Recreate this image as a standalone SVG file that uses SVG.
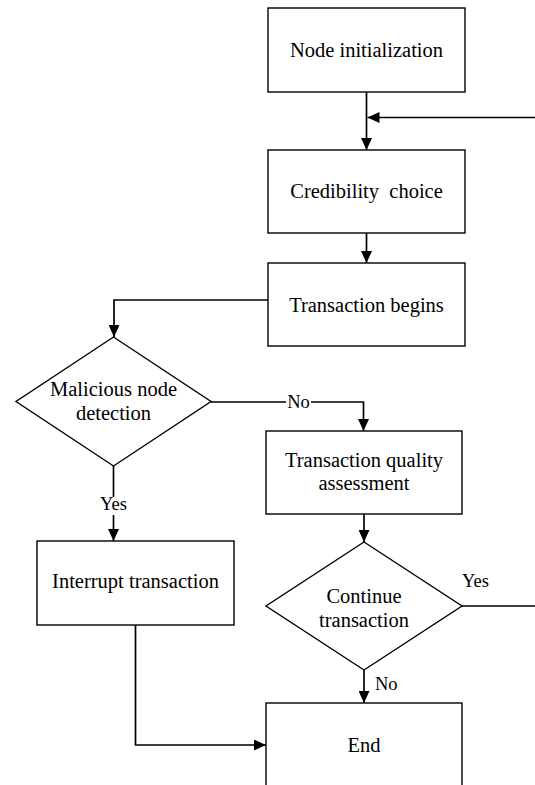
<svg xmlns="http://www.w3.org/2000/svg" width="535" height="785" viewBox="0 0 535 785">
  <style>
    .shape { fill: #ffffff; stroke: #000000; stroke-width: 1.4; }
    .line { fill: none; stroke: #000000; stroke-width: 1.7; }
    .txt { font-family: "Liberation Serif", "Times New Roman", serif; font-size: 20.5px; fill: #000000; text-anchor: middle; }
    .lbl { font-family: "Liberation Serif", "Times New Roman", serif; font-size: 18.5px; fill: #000000; }
    .lblbg { fill: #ffffff; stroke: none; }
  </style>
  <defs>
    <marker id="arrow" markerWidth="12" markerHeight="11" refX="12" refY="5.5" orient="auto" markerUnits="userSpaceOnUse">
      <path d="M0,0 L12,5.5 L0,11 Z" fill="#000000"/>
    </marker>
  </defs>

  <rect width="535" height="785" fill="#ffffff"/>

  <!-- connectors -->
  <g id="connectors">
    <path class="line" d="M366.5,92 V150" marker-end="url(#arrow)"/>
    <path class="line" d="M537,117.5 H367.5" marker-end="url(#arrow)"/>
    <path class="line" d="M366.5,233 V263" marker-end="url(#arrow)"/>
    <path class="line" d="M268,300 H114 V337" marker-end="url(#arrow)"/>
    <path class="line" d="M211,402 H363.5 V431" marker-end="url(#arrow)"/>
    <path class="line" d="M113.5,466 V541" marker-end="url(#arrow)"/>
    <path class="line" d="M364,514 V542" marker-end="url(#arrow)"/>
    <path class="line" d="M462,606 H537"/>
    <path class="line" d="M364,670 V703" marker-end="url(#arrow)"/>
    <path class="line" d="M135.5,625 V745 H266" marker-end="url(#arrow)"/>

    <!-- branch labels -->
    <rect class="lblbg" x="286" y="392" width="25" height="20"/>
    <text class="lbl" x="298.5" y="408" text-anchor="middle">No</text>
    <rect class="lblbg" x="98" y="497" width="31" height="18"/>
    <text class="lbl" x="113.5" y="510" text-anchor="middle">Yes</text>
    <text class="lbl" x="462" y="587">Yes</text>
    <text class="lbl" x="375" y="690">No</text>
  </g>

  <g id="node-init">
    <rect class="shape" x="268" y="8" width="197" height="84"/>
    <text class="txt" x="366.5" y="57">Node initialization</text>
  </g>

  <g id="credibility">
    <rect class="shape" x="268" y="150" width="197" height="83"/>
    <text class="txt" x="366.5" y="198" xml:space="preserve">Credibility  choice</text>
  </g>

  <g id="tx-begins">
    <rect class="shape" x="268" y="263" width="197" height="83"/>
    <text class="txt" x="366.5" y="312">Transaction begins</text>
  </g>

  <g id="malicious-check">
    <path class="shape" d="M113.5,337 L211,401.5 L113.5,466 L16,401.5 Z"/>
    <text class="txt" x="113.5" y="396">Malicious node</text>
    <text class="txt" x="113.5" y="420">detection</text>
  </g>

  <g id="quality">
    <rect class="shape" x="266" y="431" width="196" height="83"/>
    <text class="txt" x="364" y="467">Transaction quality</text>
    <text class="txt" x="364" y="490">assessment</text>
  </g>

  <g id="interrupt">
    <rect class="shape" x="37" y="541" width="197" height="84"/>
    <text class="txt" x="135.5" y="588">Interrupt transaction</text>
  </g>

  <g id="continue-check">
    <path class="shape" d="M364,542 L462,606 L364,670 L266,606 Z"/>
    <text class="txt" x="364" y="603">Continue</text>
    <text class="txt" x="364" y="627">transaction</text>
  </g>

  <g id="end">
    <rect class="shape" x="266" y="703" width="196" height="120"/>
    <text class="txt" x="364" y="752">End</text>
  </g>
</svg>
